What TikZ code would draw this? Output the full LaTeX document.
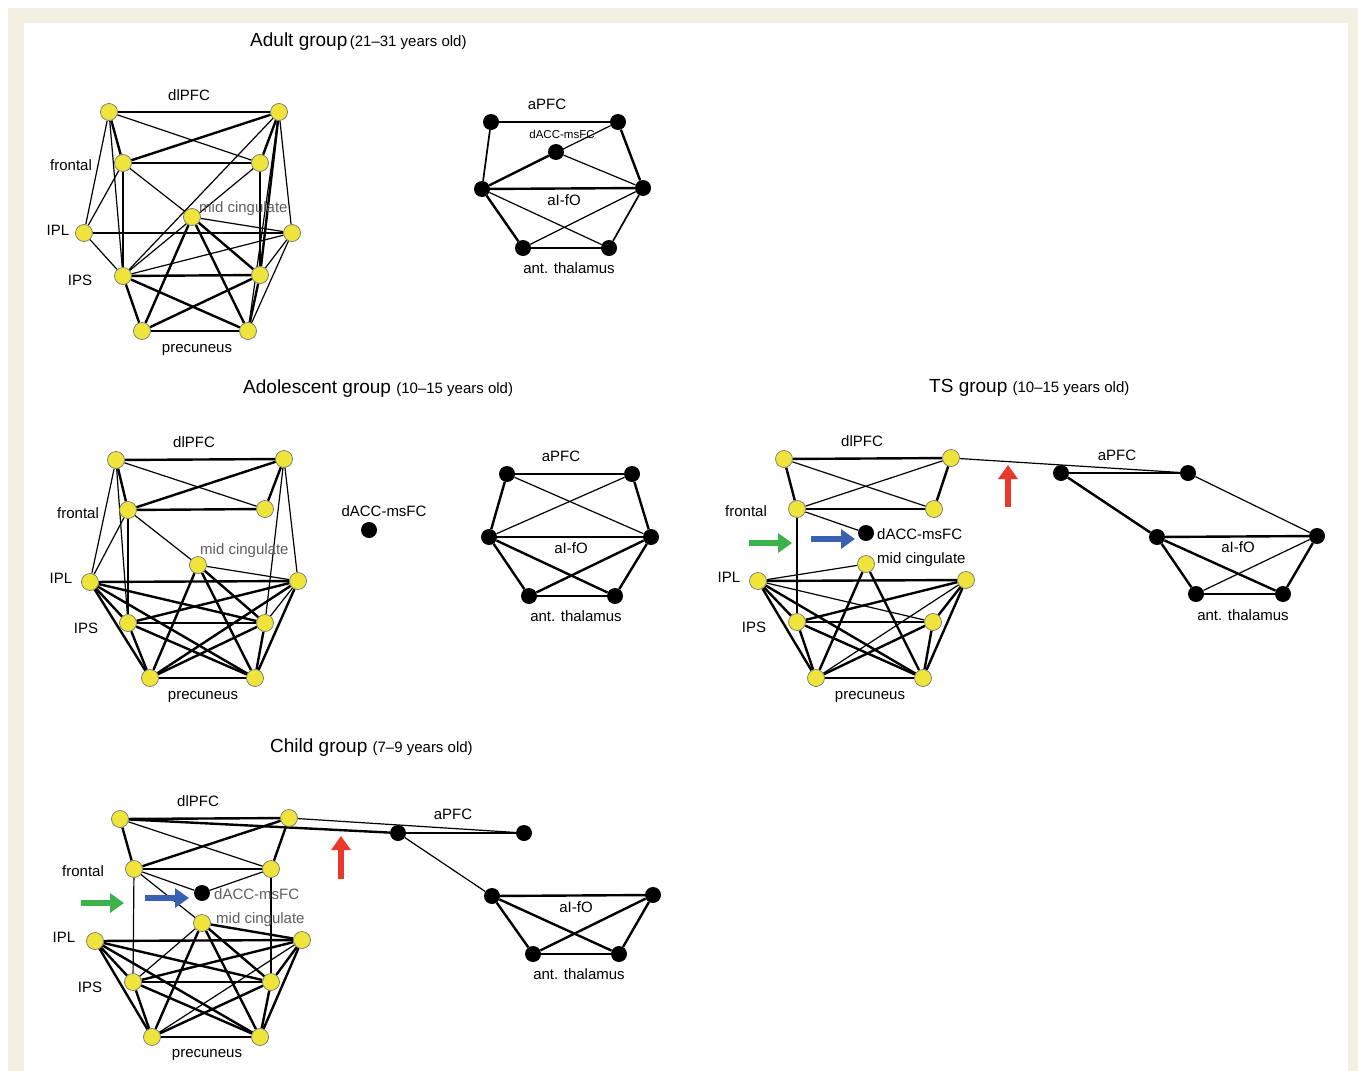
\documentclass[tikz,border=0pt]{standalone}
\usepackage{fontspec}
\setmainfont{Liberation Sans}
\usetikzlibrary{arrows.meta}
\pgfdeclarelayer{back}
\pgfdeclarelayer{bg}
\pgfsetlayers{back,bg,main}
\definecolor{beige}{RGB}{244,240,225}
\definecolor{yel}{RGB}{238,228,60}
\definecolor{grn}{RGB}{60,178,74}
\definecolor{blu}{RGB}{58,96,176}
\definecolor{rd}{RGB}{234,56,42}
\definecolor{gtxt}{RGB}{95,95,95}
\begin{document}
\begin{tikzpicture}[x=1pt,y=-1pt,
 yn/.style={circle,fill=yel,draw=black!55,line width=0.7pt,inner sep=0pt,minimum size=17pt},
 bn/.style={circle,fill=black,inner sep=0pt,minimum size=16pt},
 tk/.style={line width=2.4pt},
 md/.style={line width=1.7pt},
 tn/.style={line width=1.2pt},
 lab/.style={inner sep=0pt,font=\fontsize{15}{17}\selectfont},
 glab/.style={lab,text=gtxt},
 ttl/.style={inner sep=0pt,anchor=west,font=\fontsize{19}{22}\selectfont},
 arr/.style={line width=6pt,-{Triangle[length=14pt,width=19pt]}}]
\useasboundingbox (0,0) rectangle (1358,1071);
\begin{pgfonlayer}{back}
\fill[white] (0,0) rectangle (1358,1071);
\fill[beige] (8,8) rectangle (1358,1071);
\fill[white] (24,23) rectangle (1348,1071);
\end{pgfonlayer}

% ---------------- titles
\node[ttl] (tad) at (250,42) {Adult group\fontsize{15}{17}\selectfont\,(21–31 years old)};
\node[ttl] (tas) at (243,389) {Adolescent group \fontsize{15}{17}\selectfont(10–15 years old)};
\node[ttl] (tts) at (929,388) {TS group \fontsize{15}{17}\selectfont(10–15 years old)};
\node[ttl] (tch) at (270,748) {Child group \fontsize{15}{17}\selectfont(7–9 years old)};

% ================= ADULT =================
\node[yn] (adA) at (109,112) {}; \node[yn] (adB) at (279,112) {};
\node[yn] (adC) at (123,163) {}; \node[yn] (adD) at (260,163) {};
\node[yn] (adM) at (192,217) {};
\node[yn] (adE) at (84,233) {};  \node[yn] (adF) at (292,233) {};
\node[yn] (adG) at (123,276) {}; \node[yn] (adH) at (260,275) {};
\node[yn] (adP) at (142,331) {}; \node[yn] (adQ) at (248,331) {};
\node[lab] (adl1) at (189,95) {dlPFC};
\node[lab] (adl2) at (71,165) {frontal};
\node[lab] (adl3) at (58,230) {IPL};
\node[lab] (adl4) at (80,280) {IPS};
\node[lab] (adl5) at (197,350) {precuneus};
\node[glab,anchor=west] (adl6) at (199,209) {mid cingulate};
\begin{pgfonlayer}{bg}
\foreach \a/\b in {A/B,A/C,B/C,B/D,B/H,C/D,C/G,D/H,E/F,G/H,G/P,G/Q,H/P,H/Q,M/H,M/P,M/Q,P/Q}
  \draw[tk] (ad\a) -- (ad\b);
\foreach \a/\b in {A/D,A/E,A/G,B/G,B/F,B/Q,C/E,C/M,E/G,F/G,F/Q,F/H,M/F,G/D}
  \draw[tn] (ad\a) -- (ad\b);
\end{pgfonlayer}

\node[bn] (adaPL) at (491,122) {}; \node[bn] (adaPR) at (618,122) {};
\node[bn] (adK) at (556,152) {};
\node[bn] (adaIL) at (482,189) {}; \node[bn] (adaIR) at (643,188) {};
\node[bn] (adtL) at (523,248) {}; \node[bn] (adtR) at (609,248) {};
\node[lab] (adc1) at (547,104) {aPFC};
\node[lab,font=\fontsize{11.5}{13}\selectfont] (adc2) at (562,134) {dACC-msFC};
\node[lab] (adc3) at (564,200) {aI-fO};
\node[lab] (adc4) at (569,268) {ant. thalamus};
\begin{pgfonlayer}{bg}
\foreach \a/\b in {aPL/aPR,aPR/aIR,aIL/aIR,aIL/tL,tL/tR,aIL/K}
  \draw[tk] (ad\a) -- (ad\b);
\foreach \a/\b in {aPL/aIL,aIR/tR}
  \draw[md] (ad\a) -- (ad\b);
\foreach \a/\b in {aIL/aPR,K/aIR,aIL/tR,aIR/tL}
  \draw[tn] (ad\a) -- (ad\b);
\end{pgfonlayer}

% ================= ADOLESCENT =================
\node[yn] (asA) at (116,460) {}; \node[yn] (asB) at (284,459) {};
\node[yn] (asC) at (128,510) {}; \node[yn] (asD) at (265,509) {};
\node[yn] (asM) at (198,565) {};
\node[yn] (asE) at (90,582) {};  \node[yn] (asF) at (298,581) {};
\node[yn] (asG) at (128,623) {}; \node[yn] (asH) at (265,623) {};
\node[yn] (asP) at (150,678) {}; \node[yn] (asQ) at (255,678) {};
\node[lab] (asl1) at (194,442) {dlPFC};
\node[lab] (asl2) at (78,513) {frontal};
\node[lab] (asl3) at (61,578) {IPL};
\node[lab] (asl4) at (86,628) {IPS};
\node[lab] (asl5) at (203,697) {precuneus};
\node[glab,anchor=west] (asl6) at (200,551) {mid cingulate};
\begin{pgfonlayer}{bg}
\foreach \a/\b in {A/B,A/C,B/C,B/D,C/D,C/G,E/F,E/G,E/P,E/Q,E/H,F/G,F/P,F/Q,G/H,G/P,G/Q,H/P,H/Q,M/H,M/P,M/Q,P/Q}
  \draw[tk] (as\a) -- (as\b);
\foreach \a/\b in {A/D,A/E,A/G,B/F,B/H,C/E,C/M,M/F,F/H}
  \draw[tn] (as\a) -- (as\b);
\end{pgfonlayer}
\node[bn] (asK) at (369,530) {};
\node[lab] (asl7) at (384,511) {dACC-msFC};

\node[bn] (asaPL) at (507,474) {}; \node[bn] (asaPR) at (632,474) {};
\node[bn] (asaIL) at (489,537) {}; \node[bn] (asaIR) at (651,537) {};
\node[bn] (astL) at (529,596) {}; \node[bn] (astR) at (615,596) {};
\node[lab] (asc1) at (561,456) {aPFC};
\node[lab] (asc3) at (571,548) {aI-fO};
\node[lab] (asc4) at (576,616) {ant. thalamus};
\begin{pgfonlayer}{bg}
\foreach \a/\b in {aPL/aPR,aIL/aIR,aIL/tR,aIR/tL,tL/tR,aPL/aIL,aPR/aIR,aIL/tL,aIR/tR}
  \draw[tk] (as\a) -- (as\b);
\foreach \a/\b in {aPL/aIR,aPR/aIL}
  \draw[tn] (as\a) -- (as\b);
\end{pgfonlayer}

% ================= TS =================
\node[yn] (tsA) at (784,459) {}; \node[yn] (tsB) at (951,458) {};
\node[yn] (tsC) at (797,509) {}; \node[yn] (tsD) at (934,509) {};
\node[bn] (tsK) at (866,533) {};
\node[yn] (tsM) at (866,564) {};
\node[yn] (tsE) at (758,581) {};  \node[yn] (tsF) at (966,580) {};
\node[yn] (tsG) at (797,622) {}; \node[yn] (tsH) at (933,622) {};
\node[yn] (tsP) at (816,678) {}; \node[yn] (tsQ) at (923,678) {};
\node[lab] (tsl1) at (862,441) {dlPFC};
\node[lab] (tsl2) at (746,511) {frontal};
\node[lab] (tsl3) at (729,577) {IPL};
\node[lab] (tsl4) at (754,627) {IPS};
\node[lab] (tsl5) at (870,697) {precuneus};
\node[lab,anchor=west] (tsl6) at (877,534) {dACC-msFC};
\node[lab,anchor=west] (tsl7) at (877,560) {mid cingulate};
\begin{pgfonlayer}{bg}
\foreach \a/\b in {A/B,A/C,B/D,C/D,E/F,E/G,E/P,E/Q,F/G,F/Q,F/H,G/H,G/P,G/Q,H/P,H/Q,M/P,M/Q,P/Q}
  \draw[tk] (ts\a) -- (ts\b);
\foreach \a/\b in {A/D,B/C,C/K,C/G,E/M,E/H,F/P}
  \draw[tn] (ts\a) -- (ts\b);
\end{pgfonlayer}

\node[bn] (tsaPL) at (1061,473) {}; \node[bn] (tsaPR) at (1188,473) {};
\node[bn] (tsaIL) at (1157,537) {}; \node[bn] (tsaIR) at (1317,536) {};
\node[bn] (tstL) at (1196,594) {}; \node[bn] (tstR) at (1283,594) {};
\node[lab] (tsc1) at (1117,455) {aPFC};
\node[lab] (tsc3) at (1238,547) {aI-fO};
\node[lab] (tsc4) at (1243,615) {ant. thalamus};
\begin{pgfonlayer}{bg}
\foreach \a/\b in {aPL/aPR,aPL/aIL,aIL/aIR,aIL/tL,aIL/tR,aIR/tR,tL/tR}
  \draw[tk] (ts\a) -- (ts\b);
\foreach \a/\b in {aPR/aIR,aIR/tL,B/aPR}
  \draw[tn] (ts\a) -- (ts\b);
\end{pgfonlayer}
\coordinate (tsg1) at (749,543); \coordinate (tsg2) at (792,543);
\draw[arr,grn] (tsg1) -- (tsg2);
\coordinate (tsb1) at (811,539); \coordinate (tsb2) at (855,539);
\draw[arr,blu] (tsb1) -- (tsb2);
\coordinate (tsr1) at (1008,507); \coordinate (tsr2) at (1008,465);
\draw[arr,rd] (tsr1) -- (tsr2);

% ================= CHILD =================
\node[yn] (chA) at (120,819) {}; \node[yn] (chB) at (289,818) {};
\node[yn] (chC) at (134,869) {}; \node[yn] (chD) at (271,869) {};
\node[bn] (chK) at (202,893) {};
\node[yn] (chM) at (202,923) {};
\node[yn] (chE) at (95,941) {};  \node[yn] (chF) at (302,940) {};
\node[yn] (chG) at (133,982) {}; \node[yn] (chH) at (271,982) {};
\node[yn] (chP) at (152,1037) {}; \node[yn] (chQ) at (260,1037) {};
\node[lab] (chl1) at (198,801) {dlPFC};
\node[lab] (chl2) at (83,871) {frontal};
\node[lab] (chl3) at (64,937) {IPL};
\node[lab] (chl4) at (90,987) {IPS};
\node[lab] (chl5) at (207,1055) {precuneus};
\node[glab,anchor=west] (chl6) at (214,894) {dACC-msFC};
\node[glab,anchor=west] (chl7) at (216,920) {mid cingulate};
\begin{pgfonlayer}{bg}
\foreach \a/\b in {A/B,A/C,B/C,B/D,C/D,E/F,E/G,E/H,E/P,E/Q,F/G,F/H,F/Q,M/F,M/H,M/P,M/Q,G/H,G/P,G/Q,H/P,H/Q,P/Q}
  \draw[tk] (ch\a) -- (ch\b);
\foreach \a/\b in {A/D,C/K,K/D,C/M,C/G,D/H,M/G,F/P}
  \draw[tn] (ch\a) -- (ch\b);
\end{pgfonlayer}

\node[bn] (chaPL) at (398,833) {}; \node[bn] (chaPR) at (524,833) {};
\node[bn] (chaIL) at (492,896) {}; \node[bn] (chaIR) at (653,895) {};
\node[bn] (chtL) at (533,954) {}; \node[bn] (chtR) at (619,954) {};
\node[lab] (chc1) at (453,814) {aPFC};
\node[lab] (chc3) at (576,907) {aI-fO};
\node[lab] (chc4) at (579,974) {ant. thalamus};
\begin{pgfonlayer}{bg}
\foreach \a/\b in {A/aPL,aPL/aPR,aIL/aIR,aIL/tL,aIL/tR,aIR/tL,aIR/tR,tL/tR}
  \draw[tk] (ch\a) -- (ch\b);
\foreach \a/\b in {B/aPR,aPL/aIL}
  \draw[tn] (ch\a) -- (ch\b);
\end{pgfonlayer}
\coordinate (chg1) at (81,903); \coordinate (chg2) at (124,903);
\draw[arr,grn] (chg1) -- (chg2);
\coordinate (chb1) at (145,898); \coordinate (chb2) at (189,898);
\draw[arr,blu] (chb1) -- (chb2);
\coordinate (chr1) at (341,879); \coordinate (chr2) at (341,836);
\draw[arr,rd] (chr1) -- (chr2);
\end{tikzpicture}
\end{document}
